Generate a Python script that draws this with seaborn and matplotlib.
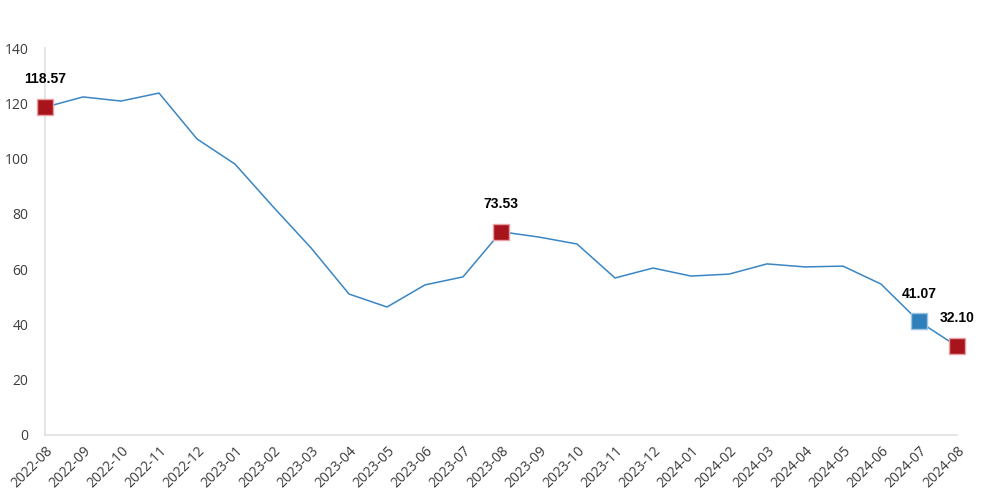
import matplotlib
matplotlib.use("Agg")
import matplotlib.pyplot as plt
import pandas as pd
import seaborn as sns

# monthly values
months = ["2022-08", "2022-09", "2022-10", "2022-11", "2022-12",
          "2023-01", "2023-02", "2023-03", "2023-04", "2023-05", "2023-06",
          "2023-07", "2023-08", "2023-09", "2023-10", "2023-11", "2023-12",
          "2024-01", "2024-02", "2024-03", "2024-04", "2024-05", "2024-06",
          "2024-07", "2024-08"]
values = [118.57, 122.3, 120.8, 123.7, 107.1, 98.0, 82.6, 67.7, 51.0, 46.3,
          54.3, 57.2, 73.53, 71.6, 69.1, 56.8, 60.4, 57.5, 58.2, 61.9, 60.8,
          61.1, 54.6, 41.07, 32.10]

# highlighted points
red_months = ["2022-08", "2023-08", "2024-08"]
blue_months = ["2024-07"]

line_color = "#3a86c4"
red = "#a8141c"
blue = "#2f7fba"

df = pd.DataFrame({"month": months, "value": values})
df["idx"] = range(len(df))

sns.set_style("white")
plt.rcParams["font.family"] = ["Open Sans", "DejaVu Sans"]

fig = plt.figure(figsize=(9.87, 5.0), dpi=100)
ax = fig.add_axes([0.0456, 0.13, 0.924, 0.774])

sns.lineplot(data=df, x="idx", y="value", ax=ax, color=line_color, linewidth=1.1)

red_df = df[df["month"].isin(red_months)]
blue_df = df[df["month"].isin(blue_months)]
for sub, col, edge in [(red_df, red, "#e8a0a4"), (blue_df, blue, "#9cc4e4")]:
    sns.scatterplot(data=sub, x="idx", y="value", ax=ax, marker="s", s=135,
                    color=col, edgecolor=edge, linewidth=1, zorder=5)
for coll in ax.collections:
    coll.set_clip_on(False)

for _, row in pd.concat([red_df, blue_df]).iterrows():
    ax.annotate(f"{row['value']:.2f}", (row["idx"], row["value"]),
                xytext=(0, 15), textcoords="offset points", ha="center",
                va="bottom", fontsize=10, fontweight="bold",
                family=["Liberation Sans", "DejaVu Sans"], color="black",
                annotation_clip=False)

ax.set_xlim(0, len(months) - 1)
ax.set_ylim(0, 140)
ax.set_yticks(range(0, 141, 20))
ax.set_xticks(df["idx"])
ax.set_xticklabels(months, rotation=45, ha="right", rotation_mode="anchor")
ax.tick_params(axis="both", labelsize=10, colors="#3c3c3c", length=0)
ax.tick_params(axis="y", pad=12)
ax.tick_params(axis="x", pad=6)
ax.set_xlabel("")
ax.set_ylabel("")

for side in ["top", "right"]:
    ax.spines[side].set_visible(False)
for side in ["left", "bottom"]:
    ax.spines[side].set_color("#e0e0e0")
    ax.spines[side].set_linewidth(1.2)

fig.savefig("out.png", dpi=100)
